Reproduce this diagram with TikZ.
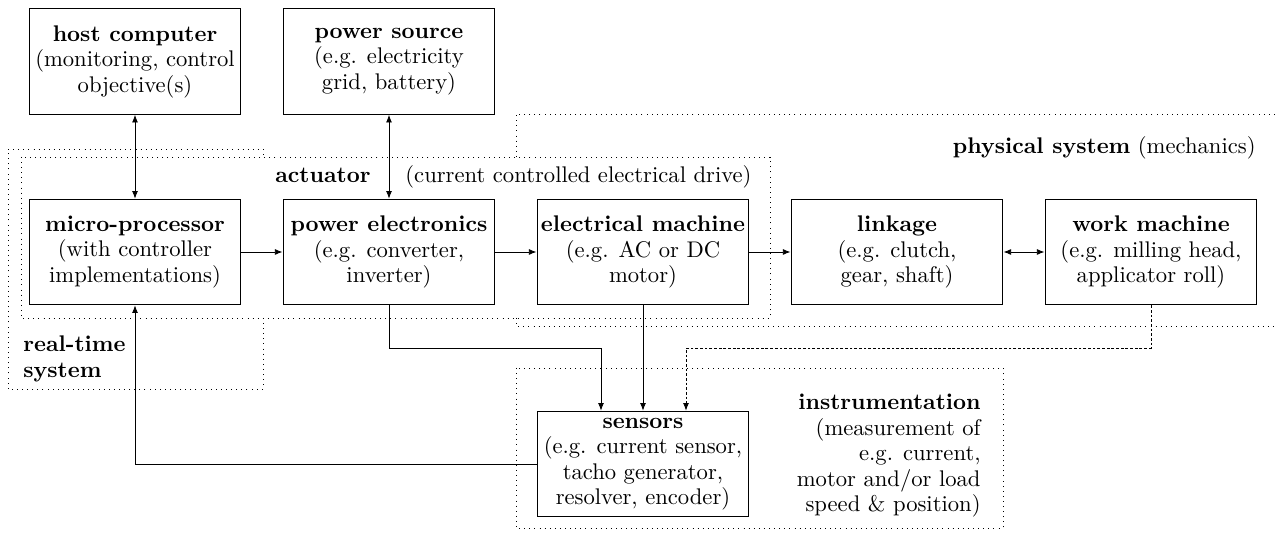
\documentclass[tikz,border=0pt]{standalone}
\usetikzlibrary{arrows.meta}
\tikzset{
  every node/.style={font=\fontsize{10.65pt}{12pt}\selectfont},
  blk/.style={draw, line width=0.6pt, minimum width=99.6pt, minimum height=49.6pt, inner sep=0pt, align=center},
  conn/.style={line width=0.4pt, -{Latex[length=3.6pt,width=2.8pt]}},
  biconn/.style={line width=0.4pt, {Latex[length=3.6pt,width=2.8pt]}-{Latex[length=3.6pt,width=2.8pt]}},
  region/.style={dotted, line width=0.4pt},
  meas/.style={line width=0.4pt, dash pattern=on 1.3pt off 0.9pt, -{Latex[length=3.6pt,width=2.8pt]}},
  lbl/.style={inner sep=0pt}
}
\begin{document}
\begin{tikzpicture}[x=0.4706pt, y=-0.4706pt]
\useasboundingbox (0,0) rectangle (1277,538);

% regions
\draw[region] (263,318) -- (263,389) -- (8,389) -- (8,149) -- (263,149) -- (263,157);
\draw[region] (21,157) rectangle (770,318);
\draw[region] (1290,114) -- (516,114) -- (516,157);
\draw[region] (516,318) -- (516,326) -- (1290,326);
\draw[region] (516,368) rectangle (1003,528);

% blocks
\node[blk] (hc) at (135,61.5) {\textbf{host computer}\\(monitoring, control\\objective(s)};
\node[blk] (ps) at (389,61.5) {\textbf{power source}\\(e.g. electricity\\grid, battery)};
\node[blk] (mp) at (135,252) {\textbf{micro-processor}\\(with controller\\implementations)};
\node[blk] (pe) at (389,252) {\textbf{power electronics}\\(e.g. converter,\\inverter)};
\node[blk] (em) at (643,252) {\textbf{electrical machine}\\(e.g. AC or DC\\motor)};
\node[blk] (lk) at (897,252) {\textbf{linkage}\\(e.g. clutch,\\gear, shaft)};
\node[blk] (wm) at (1151,252) {\textbf{work machine}\\(e.g. milling head,\\applicator roll)};
\node[blk] (sens) at (643,464) {\textbf{sensors}\\(e.g. current sensor,\\tacho generator,\\resolver, encoder)};

% labels
\node[lbl, anchor=base east] (actlbl) at (371,183) {\textbf{actuator}};
\node[lbl, anchor=base west] (actdesc) at (405,183) {(current controlled electrical drive)};
\node[lbl, anchor=base east] (physlbl) at (1256,154) {\textbf{physical system} (mechanics)};
\node[lbl, anchor=base west] (rt1) at (23,352) {\textbf{real-time}};
\node[lbl, anchor=base west] (rt2) at (23,377.5) {\textbf{system}};
\node[lbl, anchor=base east] (in1) at (981,410) {\textbf{instrumentation}};
\node[lbl, anchor=base east] (in2) at (981,435.5) {(measurement of};
\node[lbl, anchor=base east] (in3) at (981,461) {e.g. current,};
\node[lbl, anchor=base east] (in4) at (981,486.5) {motor and/or load};
\node[lbl, anchor=base east] (in5) at (981,512) {speed \& position)};

% connectors
\draw[biconn] (hc.south) -- (mp.north);
\draw[biconn] (ps.south) -- (pe.north);
\draw[conn] (mp.east) -- (pe.west);
\draw[conn] (pe.east) -- (em.west);
\draw[conn] (em.east) -- (lk.west);
\draw[biconn] (lk.east) -- (wm.east -| wm.west);
\coordinate (c1) at (601,348);
\coordinate (c2) at (686,348);
\draw[conn] (pe.south) |- (c1) -- (c1 |- sens.north);
\draw[conn] (em.south) -- (sens.north);
\draw[meas] (wm.south) |- (c2) -- (c2 |- sens.north);
\draw[conn] (sens.west) -| (mp.south);
\end{tikzpicture}
\end{document}
